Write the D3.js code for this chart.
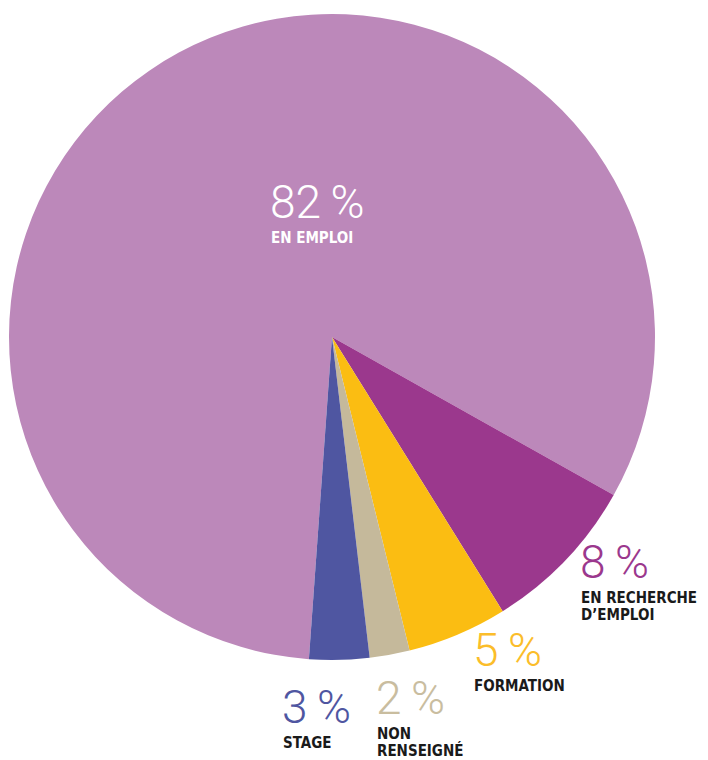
<!DOCTYPE html>
<html>
<head>
<meta charset="utf-8">
<script src="https://cdn.jsdelivr.net/npm/d3@7"></script>
<style>
  body { margin: 0; background: #fff; }
  .pct { font-family: Roboto, "Open Sans", sans-serif; font-weight: 300; }
  .lbl { font-family: "DejaVu Sans Condensed", "DejaVu Sans", sans-serif; font-weight: bold; font-stretch: condensed; }
</style>
</head>
<body>
<div id="chart"></div>
<script>
// Situation des diplômés
const categories = ["EN EMPLOI", "EN RECHERCHE D'EMPLOI", "FORMATION", "NON RENSEIGNÉ", "STAGE"];
const values = [82, 8, 5, 2, 3];
const colors = ["#bc88ba", "#9b388d", "#fbbd12", "#c5b99b", "#4f56a1"];
const pctColors = ["#ffffff", "#9b388d", "#fbbd2a", "#c9bd9f", "#4f56a1"];
const labelLines = [["EN EMPLOI"], ["EN RECHERCHE", "D\u2019EMPLOI"], ["FORMATION"], ["NON", "RENSEIGNÉ"], ["STAGE"]];

const width = 708, height = 760;
const cx = 332, cy = 337, radius = 323;

// baseline of the percent text for each label block
const labelPos = [
  { x: 270, y: 218, fill: "#ffffff" },
  { x: 580, y: 578, fill: "#1a1a1a" },
  { x: 473, y: 666, fill: "#1a1a1a" },
  { x: 376, y: 714, fill: "#1a1a1a" },
  { x: 282, y: 723, fill: "#1a1a1a" },
];
const pctSize = 46, lblSize = 15, lblGap = 25, lineStep = 17;

const svg = d3.select("#chart")
  .append("svg")
  .attr("width", width)
  .attr("height", height);

const g = svg.append("g").attr("transform", `translate(${cx},${cy})`);

// en emploi ends near 4 o'clock, so the pie starts just past 6 o'clock
const startDeg = -175.9;
const pie = d3.pie()
  .sort(null)
  .value((d) => d)
  .startAngle(startDeg * Math.PI / 180)
  .endAngle((startDeg + 360) * Math.PI / 180);

const arc = d3.arc().innerRadius(0).outerRadius(radius);

g.selectAll("path")
  .data(pie(values))
  .enter()
  .append("path")
  .attr("d", arc)
  .attr("fill", (d, i) => colors[i]);

// labels
const labels = svg.selectAll(".label")
  .data(categories)
  .enter()
  .append("g")
  .attr("class", "label")
  .attr("transform", (d, i) => `translate(${labelPos[i].x},${labelPos[i].y})`);

labels.append("text")
  .attr("class", "pct")
  .attr("x", 0)
  .attr("y", 0)
  .attr("font-size", pctSize)
  .attr("fill", (d, i) => pctColors[i])
  .text((d, i) => `${values[i]}\u2009%`);

labels.each(function (d, i) {
  const sel = d3.select(this);
  labelLines[i].forEach((line, j) => {
    sel.append("text")
      .attr("class", "lbl")
      .attr("x", 1)
      .attr("y", lblGap + j * lineStep)
      .attr("font-size", lblSize)
      .attr("fill", labelPos[i].fill)
      .text(line);
  });
});
</script>
</body>
</html>
